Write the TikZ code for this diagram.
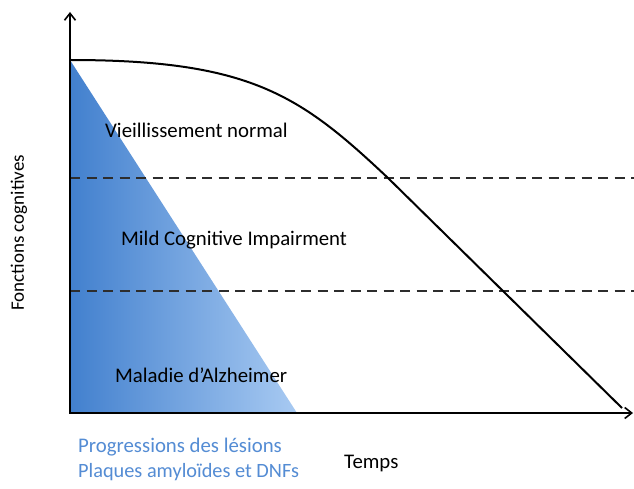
\documentclass[tikz,border=0pt]{standalone}
\usepackage{fontspec}
\setmainfont{Carlito}
\usetikzlibrary{arrows.meta}

\definecolor{lesiondark}{RGB}{66,128,206}
\definecolor{lesionlight}{RGB}{168,202,242}
\definecolor{lesiontext}{RGB}{84,140,212}
\definecolor{stage}{RGB}{45,45,45}

\tikzset{
  axis/.style={line width=2.8pt,-{Straight Barb[length=7pt,width=11pt,line width=1.6pt]}},
  threshold/.style={line width=2.8pt,stage,dash pattern=on 10pt off 6.5pt},
  label/.style={font=\fontsize{20.8}{25}\selectfont,inner sep=0pt,anchor=west},
}

\begin{document}
\begin{tikzpicture}[x=1pt,y=-1pt]
  \useasboundingbox[fill=white] (0,0) rectangle (634,489);
  % Lesion load grows as cognition falls.
  \shade[left color=lesiondark,right color=lesionlight]
    (70,60) -- (70,413) -- (297,413) -- cycle;
  % Boundaries between the three stages.
  \draw[threshold] (70,178) -- (634,178);
  \draw[threshold] (70,291) -- (634,291);
  % Decline of cognitive functions over time.
  \draw[line width=2pt] (70,60) .. controls (250,60) and (300,95) .. (388,178)
    -- (622,408);
  % Axes.
  \draw[axis] (70,413) -- (70,12);
  \draw[axis] (69,413) -- (633,413);
  \node[label,rotate=90,anchor=center,font=\fontsize{19}{23}\selectfont]
    (ylab) at (19,233) {Fonctions cognitives};
  \node[label] (xlab) at (344,463) {Temps};
  % Stage names.
  \node[label] (normal) at (105,130) {Vieillissement normal};
  \node[label] (mci) at (121,240) {Mild Cognitive Impairment};
  \node[label] (ad) at (115,375) {Maladie d’Alzheimer};
  % Lesion caption.
  \node[label,lesiontext] (lesions) at (78,447) {Progressions des lésions};
  \node[label,lesiontext,font=\fontsize{20.3}{25}\selectfont] (plaques) at (78,472)
    {Plaques amyloïdes et DNFs};
\end{tikzpicture}
\end{document}
